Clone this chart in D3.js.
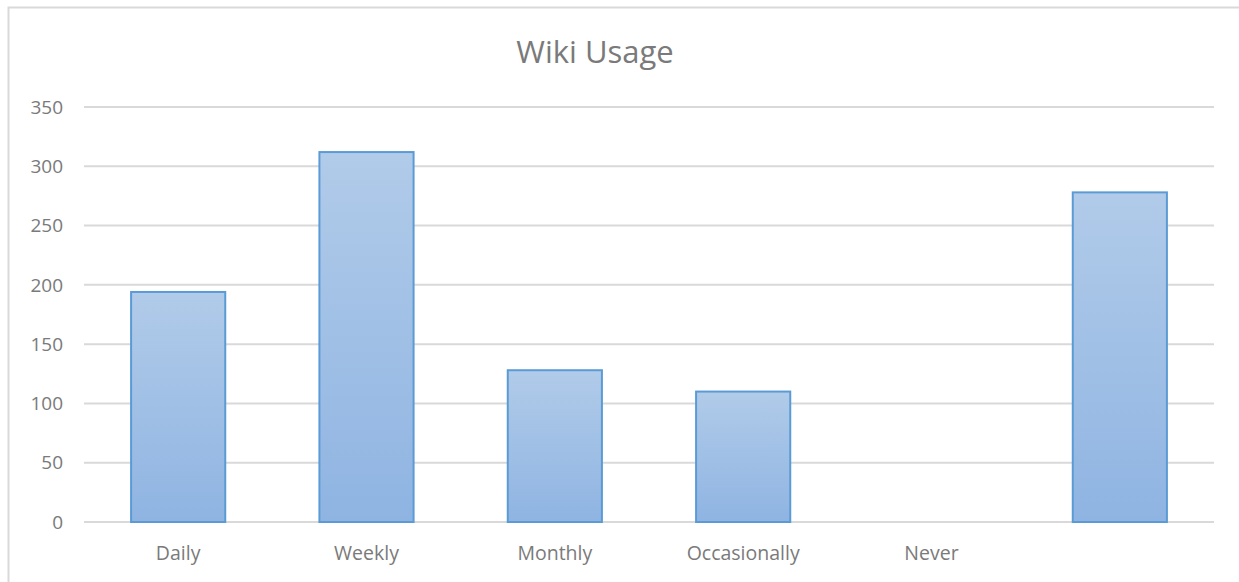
<!DOCTYPE html>
<html><head><meta charset="utf-8">
<script src="https://cdn.jsdelivr.net/npm/d3@7"></script>
<style>body{margin:0;background:#fff;}svg{display:block;}</style>
</head><body>
<script>
const categories = ["Daily","Weekly","Monthly","Occasionally","Never",""];
const values = [194, 312, 128, 110, 0, 278];
const yTicks = [0,50,100,150,200,250,300,350];
const title = "Wiki Usage";

(function(){
const W = 1239, H = 582;
const svg = d3.select("body").append("svg").attr("width", W).attr("height", H);
const defs = svg.append("defs");
const grad = defs.append("linearGradient").attr("id","g").attr("x1",0).attr("y1",0).attr("x2",0).attr("y2",1);
grad.append("stop").attr("offset","0%").attr("stop-color","#b1cbe9");
grad.append("stop").attr("offset","100%").attr("stop-color","#8fb4e2");

// frame
svg.append("path").attr("d","M8.5,582 L8.5,7.5 L1239,7.5").attr("fill","none").attr("stroke","#d9d9d9").attr("stroke-width",2);

const pL = 84, pR = 1214, pT = 107, pB = 522;
const x = d3.scaleBand().domain(categories.map((c,i)=>i)).range([pL,pR]).paddingInner(0.5).paddingOuter(0.25);
const y = d3.scaleLinear().domain([0,350]).range([pB, pT]);

const font = "'Open Sans', 'Noto Sans', sans-serif";

// grid
svg.append("g").selectAll("line").data(yTicks).join("line")
  .attr("x1",pL).attr("x2",pR).attr("y1",d=>y(d)).attr("y2",d=>y(d))
  .attr("stroke","#d9d9d9").attr("stroke-width",2);

// y labels
svg.append("g").selectAll("text").data(yTicks).join("text")
  .attr("x",63).attr("y",d=>y(d)).attr("dy","0.35em").attr("text-anchor","end")
  .attr("font-family",font).attr("font-size",19).attr("fill","#7a7a7a").text(d=>d);

// bars
svg.append("g").selectAll("rect").data(values.map((v,i)=>({v,i})).filter(d=>d.v>0)).join("rect")
  .attr("x",d=>x(d.i)).attr("width",x.bandwidth())
  .attr("y",d=>y(d.v)).attr("height",d=>y(0)-y(d.v))
  .attr("fill","url(#g)").attr("stroke","#5b9bd5").attr("stroke-width",2);

// x labels
svg.append("g").selectAll("text").data(categories).join("text")
  .attr("x",(d,i)=>x(i)+x.bandwidth()/2).attr("y",560).attr("text-anchor","middle")
  .attr("font-family",font).attr("font-size",19.5).attr("fill","#7a7a7a").text(d=>d);

// title
svg.append("text").attr("x",595).attr("y",63).attr("text-anchor","middle")
  .attr("font-family",font).attr("font-size",31).attr("fill","#7a7a7a").text(title);
})();
</script>
</body></html>
